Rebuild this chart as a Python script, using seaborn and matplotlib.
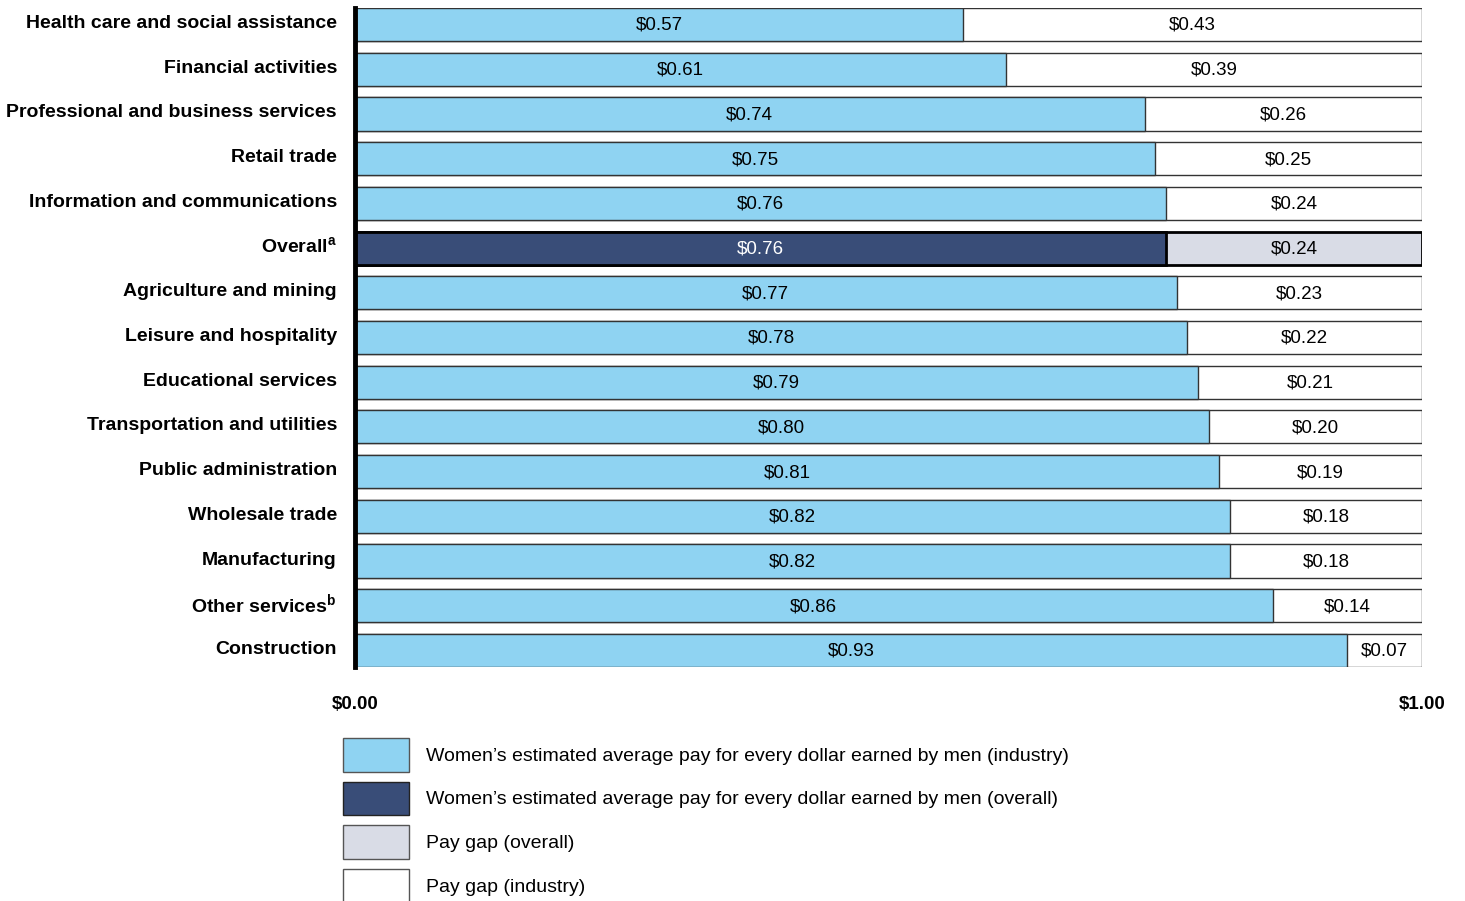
import matplotlib
matplotlib.use("Agg")
import matplotlib.pyplot as plt
import matplotlib.transforms as mtransforms
import seaborn as sns
import numpy as np
from matplotlib.patches import Patch

categories = [
    "Health care and social assistance", "Financial activities",
    "Professional and business services", "Retail trade",
    "Information and communications", r"Overall$^{\mathbf{a}}$",
    "Agriculture and mining", "Leisure and hospitality", "Educational services",
    "Transportation and utilities", "Public administration", "Wholesale trade",
    "Manufacturing", r"Other services$^{\mathbf{b}}$", "Construction",
]
women_pay = [0.57, 0.61, 0.74, 0.75, 0.76, 0.76, 0.77, 0.78, 0.79, 0.80,
             0.81, 0.82, 0.82, 0.86, 0.93]
pay_gap = [0.43, 0.39, 0.26, 0.25, 0.24, 0.24, 0.23, 0.22, 0.21, 0.20,
           0.19, 0.18, 0.18, 0.14, 0.07]
women_labels = ["$0.57", "$0.61", "$0.74", "$0.75", "$0.76", "$0.76", "$0.77",
                "$0.78", "$0.79", "$0.80", "$0.81", "$0.82", "$0.82", "$0.86", "$0.93"]
gap_labels = ["$0.43", "$0.39", "$0.26", "$0.25", "$0.24", "$0.24", "$0.23",
              "$0.22", "$0.21", "$0.20", "$0.19", "$0.18", "$0.18", "$0.14", "$0.07"]
x_ticks = [0.0, 1.0]
x_tick_labels = ["$0.00", "$1.00"]
legend_labels = [
    "Women\u2019s estimated average pay for every dollar earned by men (industry)",
    "Women\u2019s estimated average pay for every dollar earned by men (overall)",
    "Pay gap (overall)",
    "Pay gap (industry)",
]
overall_name = r"Overall$^{\mathbf{a}}$"

LIGHT_BLUE = "#8fd3f2"
NAVY = "#394d78"
GAP_GRAY = "#d9dce6"
GAP_WHITE = "#ffffff"

sns.set_theme(style="white")
plt.rcParams["font.family"] = ["Liberation Sans", "DejaVu Sans"]
plt.rcParams["mathtext.fontset"] = "custom"
plt.rcParams["mathtext.rm"] = "Liberation Sans"
plt.rcParams["mathtext.bf"] = "Liberation Sans:bold"
plt.rcParams["text.color"] = "black"
plt.rcParams["xtick.color"] = "black"
plt.rcParams["ytick.color"] = "black"
plt.rcParams["xtick.labelcolor"] = "black"
plt.rcParams["ytick.labelcolor"] = "black"

fig = plt.figure(figsize=(14.65, 9.01), dpi=100)
ax = fig.add_axes([355 / 1465, 1 - 667 / 901, (1422 - 355) / 1465, (667 - 8) / 901])

is_overall = [c == overall_name for c in categories]
totals = [w + g for w, g in zip(women_pay, pay_gap)]
gap_colors = [GAP_GRAY if o else GAP_WHITE for o in is_overall]
pay_colors = [NAVY if o else LIGHT_BLUE for o in is_overall]

sns.barplot(x=totals, y=categories, hue=categories, palette=gap_colors,
            orient="h", width=0.74, edgecolor="#333333", linewidth=1.0,
            legend=False, ax=ax, dodge=False, saturation=1)
sns.barplot(x=women_pay, y=categories, hue=categories, palette=pay_colors,
            orient="h", width=0.74, edgecolor="#333333", linewidth=1.0,
            legend=False, ax=ax, dodge=False, saturation=1)

for p in ax.patches:
    y_c = p.get_y() + p.get_height() / 2
    idx = int(round(y_c))
    if is_overall[idx]:
        p.set_edgecolor("black")
        p.set_linewidth(2.0)

for i, (w, g) in enumerate(zip(women_pay, pay_gap)):
    ax.text(w / 2, i + 0.02, women_labels[i], ha="center", va="center", fontsize=13.5,
            color="white" if is_overall[i] else "black")
    ax.text(w + g / 2, i + 0.02, gap_labels[i], ha="center", va="center", fontsize=13.5,
            color="black")

ax.set_xlim(0, 1.0)
ax.set_ylim(len(categories) - 1 + 0.37, -0.37)
ax.set_xticks(x_ticks)
ax.set_xticklabels(x_tick_labels, fontweight="bold", fontsize=13.5, color="black")
ax.tick_params(axis="x", length=0, pad=21)
ax.tick_params(axis="y", length=0, pad=13)
shift = mtransforms.ScaledTranslation(0, 3 / 100, fig.dpi_scale_trans)
for lab in ax.get_yticklabels():
    lab.set_fontweight("bold")
    lab.set_fontsize(14)
    lab.set_color("black")
    lab.set_transform(lab.get_transform() + shift)
ax.set_xlabel("")
ax.set_ylabel("")
for s in ["top", "right", "bottom"]:
    ax.spines[s].set_visible(False)
ax.spines["left"].set_linewidth(3.5)
ax.spines["left"].set_color("black")
ax.grid(False)

handles = [
    Patch(facecolor=LIGHT_BLUE, edgecolor="#555555", linewidth=1),
    Patch(facecolor=NAVY, edgecolor="#222222", linewidth=1),
    Patch(facecolor=GAP_GRAY, edgecolor="#555555", linewidth=1),
    Patch(facecolor=GAP_WHITE, edgecolor="#555555", linewidth=1),
]
fig.legend(handles, legend_labels, loc="upper left",
           bbox_to_anchor=(343 / 1465, 1 - 738 / 901), frameon=False,
           prop={"family": ["Liberation Sans"], "size": 14},
           handlelength=3.4, handleheight=2.3, handletextpad=0.85,
           labelspacing=0.5, borderpad=0, borderaxespad=0)

fig.savefig("out.png", dpi=100)
